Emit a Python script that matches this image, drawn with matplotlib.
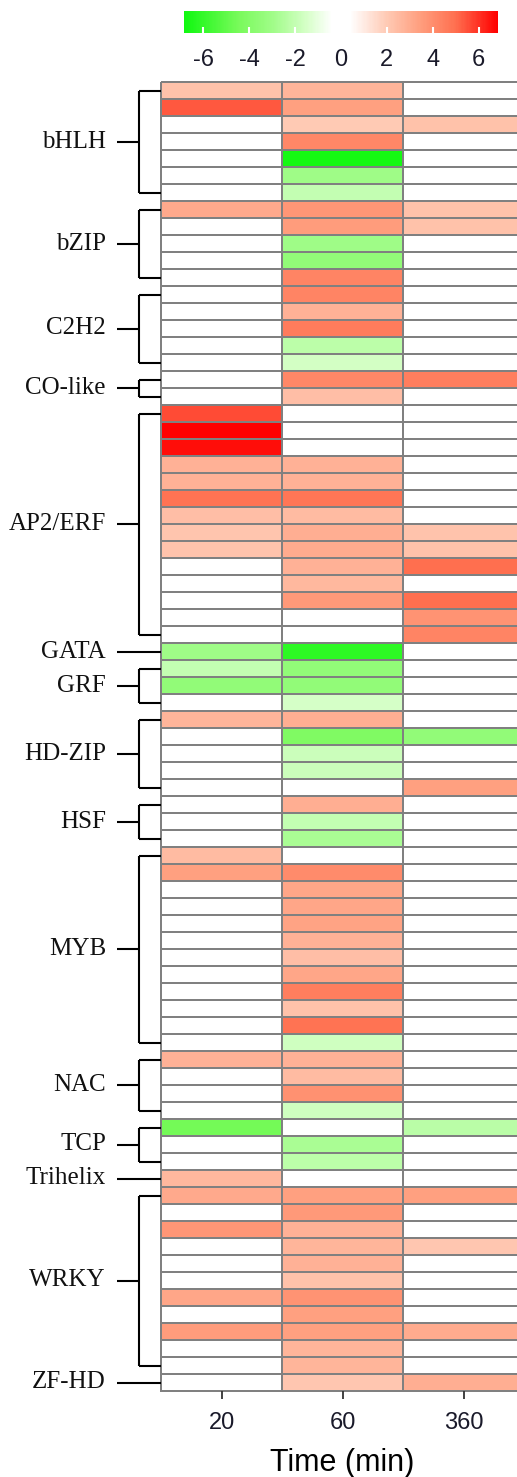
import numpy as np
import matplotlib
matplotlib.use("Agg")
import matplotlib.pyplot as plt
from matplotlib.colors import LinearSegmentedColormap, Normalize

plt.rcParams["axes.unicode_minus"] = False

# 遺伝子ファミリーと行数
families = ["bHLH", "bZIP", "C2H2", "CO-like", "AP2/ERF", "GATA", "GRF", "HD-ZIP",
            "HSF", "MYB", "NAC", "TCP", "Trihelix", "WRKY", "ZF-HD"]
family_sizes = [7, 5, 5, 2, 14, 1, 3, 5, 3, 12, 4, 3, 1, 11, 1]

time_labels = ["20", "60", "360"]

# log2FC (20 min)
fc_20 = [2.3, 5.4, 0, 0, 0, 0, 0,
         3.1, 0, 0, 0, 0,
         0, 0, 0, 0, 0,
         0, 0,
         5.6, 6.85, 6.6, 2.8, 2.8, 4.9, 2.4, 2.15, 2.2, 0, 0, 0, 0, 0,
         -3.0,
         -2.0, -3.5, 0,
         2.7, 0, 0, 0, 0,
         0, 0, 0,
         2.5, 3.4, 0, 0, 0, 0, 0, 0, 0, 0, 0, 0,
         2.8, 0, 0, 0,
         -4.6, 0, 0,
         2.6,
         3.1, 0, 3.7, 0, 0, 0, 3.2, 0, 3.5, 0, 0,
         0]

# log2FC (60 min)
fc_60 = [2.7, 3.4, 2.0, 4.2, -6.7, -3.0, -2.0,
         3.7, 3.5, -3.0, -3.5, 4.3,
         4.3, 2.8, 4.6, -2.2, -1.6,
         4.2, 2.4,
         0, 0, 0, 2.8, 2.8, 4.8, 2.5, 2.9, 3.0, 2.8, 2.6, 3.6, 0, 0,
         -6.2,
         -3.5, -3.5, -1.5,
         2.9, -4.2, -1.8, -1.8, 0,
         2.9, -2.0, -2.7,
         0, 4.1, 3.2, 3.2, 3.3, 2.8, 2.4, 3.2, 4.5, 2.3, 4.9, -1.7,
         2.8, 2.5, 3.9, -1.7,
         0, -2.7, -2.2,
         0,
         3.4, 3.6, 2.8, 2.7, 2.8, 2.3, 3.8, 3.4, 3.4, 2.7, 2.7,
         2.1]

# log2FC (360 min)
fc_360 = [0, 0, 2.3, 0, 0, 0, 0,
          2.3, 2.3, 0, 0, 0,
          0, 0, 0, 0, 0,
          4.5, 0,
          0, 0, 0, 0, 0, 0, 0, 2.2, 2.3, 5.0, 0, 5.0, 3.8, 4.3,
          0,
          0, 0, 0,
          0, -3.5, 0, 0, 3.4,
          0, 0, 0,
          0, 0, 0, 0, 0, 0, 0, 0, 0, 0, 0, 0,
          0, 0, 0, 0,
          -2.3, 0, 0,
          0,
          3.4, 0, 0, 2.1, 0, 0, 0, 0, 3.0, 0, 0,
          2.9]

data = np.column_stack([fc_20, fc_60, fc_360])
n_rows = data.shape[0]

# カラーマップ（緑-白-赤）
vmin, vmax = -6.85, 6.85
nodes = [(-6.85, "#10f810"), (-4.5, "#78fa5a"), (-3.0, "#a0fc88"), (-1.5, "#d6ffc8"),
         (-0.4, "#ffffff"), (0.4, "#ffffff"), (2.0, "#ffcab5"), (3.4, "#ffa080"),
         (5.0, "#ff7050"), (6.85, "#ff0000")]
cmap = LinearSegmentedColormap.from_list(
    "gwr", [((v - vmin) / (vmax - vmin), c) for v, c in nodes])
norm = Normalize(vmin=vmin, vmax=vmax)

W, H = 517, 1477
fig = plt.figure(figsize=(W / 100, H / 100), dpi=100)

hm_left, hm_right = 161, 524
hm_top, hm_bottom = 82, 1391
ax = fig.add_axes([hm_left / W, 1 - hm_bottom / H,
                   (hm_right - hm_left) / W, (hm_bottom - hm_top) / H])
mesh = ax.pcolormesh(data, cmap=cmap, norm=norm, edgecolors="#808080", linewidth=1.4)
mesh.set_clip_on(False)
ax.set_xlim(0, 3)
ax.set_ylim(n_rows, 0)
for s in ax.spines.values():
    s.set_visible(False)
ax.set_yticks([])
ax.set_xticks(np.arange(3) + 0.5)
ax.set_xticklabels(time_labels, fontfamily="Liberation Sans", fontsize=17, color="#1a1a2a")
ax.tick_params(axis="x", length=6, width=1.3, color="#333333", pad=9)
ax.set_xlabel("Time (min)", fontfamily="Liberation Sans", fontsize=22, labelpad=10)

# ブラケットとファミリー名
axb = fig.add_axes([0, 1 - hm_bottom / H, hm_left / W, (hm_bottom - hm_top) / H])
axb.set_xlim(0, hm_left)
axb.set_ylim(n_rows, 0)
axb.axis("off")
start = 0
for name, n in zip(families, family_sizes):
    y0 = start + 0.5
    y1 = start + n - 0.5
    ym = (y0 + y1) / 2
    kw = dict(color="black", lw=1.5, solid_capstyle="butt")
    if n == 1:
        axb.plot([117, hm_left], [ym, ym], **kw)
    else:
        axb.plot([117, 139], [ym, ym], **kw)
        axb.plot([139, 139], [y0, y1], **kw)
        axb.plot([139, hm_left], [y0, y0], **kw)
        axb.plot([139, hm_left], [y1, y1], **kw)
    axb.text(106, ym, name, ha="right", va="center", fontfamily="Liberation Serif",
             fontsize=18, color="#111111")
    start += n

# カラーバー
cax = fig.add_axes([184 / W, 1 - 33.3 / H, 314 / W, 22.6 / H])
cb = fig.colorbar(mesh, cax=cax, orientation="horizontal", ticks=[-6, -4, -2, 0, 2, 4, 6])
cb.outline.set_visible(False)
cax.tick_params(axis="x", direction="in", length=4, width=1.5, color="white",
                labelsize=17, pad=11, labelcolor="#1a1a2a")
for lab in cax.get_xticklabels():
    lab.set_fontfamily("Liberation Sans")

fig.savefig("out.png", dpi=100)
